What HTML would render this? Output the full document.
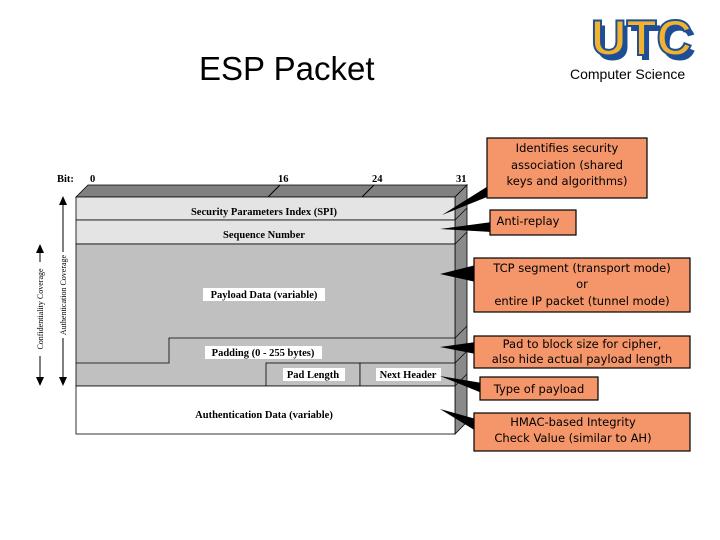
<!DOCTYPE html>
<html><head><meta charset="utf-8"><style>html,body{margin:0;padding:0;background:#fff}svg{display:block}</style></head>
<body>
<svg width="720" height="540" viewBox="0 0 720 540" xmlns="http://www.w3.org/2000/svg">
<text x="199" y="80" font-family="Liberation Sans, sans-serif" font-size="33" fill="#000">ESP Packet</text>
<!-- logo -->
<g font-family="Liberation Sans, sans-serif" font-weight="bold">
<text x="595" y="60" font-size="50" fill="#1e4f96" textLength="101" lengthAdjust="spacingAndGlyphs">UTC</text>
<text x="591" y="55" font-size="50" fill="#f2b230" stroke="#1e4f96" stroke-width="2" textLength="101" lengthAdjust="spacingAndGlyphs">UTC</text>
</g>
<text x="570" y="79" font-family="Liberation Sans, sans-serif" font-size="14" fill="#000">Computer Science</text>

<g font-family="Liberation Serif, serif" font-weight="bold" font-size="10.5" fill="#000">
<text x="57" y="182">Bit:</text>
<text x="90" y="182">0</text>
<text x="278" y="182">16</text>
<text x="372" y="182">24</text>
<text x="456" y="182">31</text>
</g>
<polygon points="76,197 88,185 467,185 455,197" fill="#808080" stroke="#000" stroke-width="0.8"/>
<polygon points="455,197 467,185 467,422 455,434" fill="#8a8a8a" stroke="#000" stroke-width="0.8"/>
<line x1="268" y1="197" x2="280" y2="185" stroke="#000"/>
<line x1="362" y1="197" x2="374" y2="185" stroke="#000"/>
<rect x="76" y="197" width="379" height="23" fill="#e4e4e4" stroke="#000" stroke-width="0.8"/>
<rect x="76" y="220" width="379" height="24" fill="#e4e4e4" stroke="#000" stroke-width="0.8"/>
<rect x="76" y="244" width="379" height="142" fill="#c0c0c0" stroke="#000" stroke-width="0.8"/>
<polyline points="76,363 169,363 169,338 455,338" fill="none" stroke="#000" stroke-width="0.8"/>
<rect x="266" y="363" width="94" height="23" fill="#c0c0c0" stroke="#000" stroke-width="0.8"/>
<rect x="360" y="363" width="95" height="23" fill="#c0c0c0" stroke="#000" stroke-width="0.8"/>
<rect x="76" y="386" width="379" height="48" fill="#fff" stroke="#000" stroke-width="0.8"/>
<g stroke="#000" stroke-width="0.7">
<line x1="455" y1="220" x2="467" y2="208"/><line x1="455" y1="244" x2="467" y2="232"/>
<line x1="455" y1="338" x2="467" y2="326"/><line x1="455" y1="363" x2="467" y2="351"/>
<line x1="455" y1="386" x2="467" y2="374"/>
</g>
<g font-family="Liberation Serif, serif" font-weight="bold" font-size="10.5" fill="#000" text-anchor="middle">
<text x="264" y="215">Security Parameters Index (SPI)</text>
<text x="264" y="238">Sequence Number</text>
<rect x="203" y="288" width="122" height="13" fill="#fff"/>
<text x="264" y="298">Payload Data (variable)</text>
<rect x="205" y="346" width="117" height="13" fill="#fff"/>
<text x="263" y="356">Padding (0 - 255 bytes)</text>
<rect x="283" y="368" width="62" height="13" fill="#fff"/>
<text x="313" y="378">Pad Length</text>
<rect x="376" y="368" width="65" height="13" fill="#fff"/>
<text x="408" y="378">Next Header</text>
<text x="264" y="418">Authentication Data (variable)</text>
</g>
<g stroke="#000" stroke-width="1">
<line x1="63" y1="202" x2="63" y2="252"/><line x1="63" y1="338" x2="63" y2="380"/>
<line x1="40" y1="250" x2="40" y2="262"/><line x1="40" y1="356" x2="40" y2="380"/>
</g>
<polygon points="63,196 59,205 67,205" fill="#000"/><polygon points="63,386 59,377 67,377" fill="#000"/>
<polygon points="40,244 36,253 44,253" fill="#000"/><polygon points="40,386 36,377 44,377" fill="#000"/>
<g font-family="Liberation Serif, serif" font-size="8" fill="#000" text-anchor="middle">
<text transform="translate(66,295) rotate(-90)">Authentication Coverage</text>
<text transform="translate(43,309) rotate(-90)">Confidentiality Coverage</text>
</g>
<g fill="#000">
<polygon points="442,215 493,183 497,193"/>
<polygon points="440,229 492,222 492,232"/>
<polygon points="440,274 476,265 476,282"/>
<polygon points="440,347 476,342 476,354"/>
<polygon points="440,376 482,383 482,393"/>
<polygon points="440,409 476,419 476,431"/>
</g>
<g fill="#f4956a" stroke="#000" stroke-width="1.2">
<rect x="487" y="138" width="160" height="60"/>
<rect x="490" y="210" width="86" height="25"/>
<rect x="474" y="258" width="216" height="54"/>
<rect x="474" y="336" width="216" height="32"/>
<rect x="480" y="377" width="118" height="23"/>
<rect x="474" y="413" width="216" height="38"/>
</g>
<g font-family="DejaVu Sans, sans-serif" font-size="11.5" fill="#000" text-anchor="middle">
<text x="567" y="152">Identifies security</text>
<text x="567" y="169">association (shared</text>
<text x="567" y="185">keys and algorithms)</text>
<text x="528" y="225">Anti-replay</text>
<text x="582" y="272">TCP segment (transport mode)</text>
<text x="582" y="288">or</text>
<text x="582" y="305">entire IP packet (tunnel mode)</text>
<text x="582" y="348">Pad to block size for cipher,</text>
<text x="582" y="363">also hide actual payload length</text>
<text x="539" y="393">Type of payload</text>
<text x="573" y="426">HMAC-based Integrity</text>
<text x="573" y="442">Check Value (similar to AH)</text>
</g>
</svg>
</body></html>
